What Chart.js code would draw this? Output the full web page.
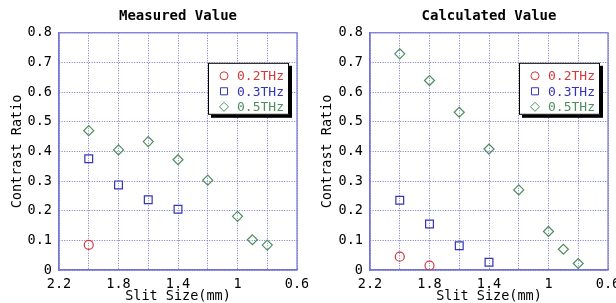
<!DOCTYPE html>
<html lang="en">
<head>
    <meta charset="UTF-8">
    <title>Contrast Ratio vs Slit Size</title>
    <script src="https://cdn.jsdelivr.net/npm/chart.js"></script>
    <style>
        body {
            margin: 0;
            background: #fff;
        }
        .wrap {
            position: relative;
            width: 616px;
            height: 303px;
        }
        .panel {
            position: absolute;
            top: 0;
            height: 303px;
        }
        #leftPanel { left: 0; width: 308px; }
        #rightPanel { left: 308px; width: 308px; }
    </style>
</head>
<body>
<div class="wrap">
    <div class="panel" id="leftPanel"><canvas id="measuredChart" width="308" height="303"></canvas></div>
    <div class="panel" id="rightPanel"><canvas id="calculatedChart" width="308" height="303"></canvas></div>
</div>

<script>
    // slit sizes (mm)
    const slitSize = [2.0, 1.8, 1.6, 1.4, 1.2, 1.0, 0.9, 0.8];
    const seriesNames = ['0.2THz', '0.3THz', '0.5THz'];
    const xTickLabels = ['2.2', '1.8', '1.4', '1', '0.6'];
    const yTickLabels = ['0', '0.1', '0.2', '0.3', '0.4', '0.5', '0.6', '0.7', '0.8'];

    // measured value
    const measured02 = [0.085];
    const measured03 = [0.375, 0.287, 0.237, 0.205];
    const measured05 = [0.470, 0.405, 0.433, 0.372, 0.303, 0.181, 0.102, 0.084];

    // calculated value
    const calculated02 = [0.045, 0.015];
    const calculated03 = [0.235, 0.155, 0.082, 0.026];
    const calculated05 = [0.729, 0.639, 0.532, 0.408, 0.270, 0.130, 0.070, 0.022];

    const colors = ['#d43a3a', '#3434b4', '#4f8f5f'];
    const styles = ['circle', 'rect', 'rectRot'];
    const radii = [4.5, 5.5, 5];
    const monoFont = "'DejaVu Sans Mono', monospace";

    function toPoints(values) {
        return values.map((v, i) => ({ x: slitSize[i], y: v }));
    }

    // frame around plot + boxed legend with shadow
    const framePlugin = {
        id: 'frame',
        beforeDatasetsDraw(chart) {
            const a = chart.chartArea;
            const ctx = chart.ctx;
            ctx.save();
            ctx.strokeStyle = '#7474d4';
            ctx.lineWidth = 1.2;
            ctx.strokeRect(a.left, a.top, a.right - a.left, a.bottom - a.top);
            ctx.restore();
        },
        afterDatasetsDraw(chart) {
            const a = chart.chartArea;
            const ctx = chart.ctx;
            const w = 81, h = 52;
            const bx = a.right - 8 - w;
            const by = a.top + 30;
            ctx.save();
            ctx.fillStyle = '#000';
            ctx.fillRect(bx + 3, by + 3, w, h);
            ctx.fillStyle = '#fff';
            ctx.fillRect(bx, by, w, h);
            ctx.strokeStyle = '#000';
            ctx.lineWidth = 1;
            ctx.strokeRect(bx + 0.5, by + 0.5, w - 1, h - 1);
            ctx.font = '13px ' + monoFont;
            ctx.textBaseline = 'middle';
            chart.data.datasets.forEach((ds, i) => {
                const cy = by + 13 + i * 15.5;
                ctx.strokeStyle = ds.borderColor;
                ctx.fillStyle = 'rgba(0,0,0,0)';
                ctx.lineWidth = 1;
                Chart.helpers.drawPoint(ctx, { pointStyle: ds.pointStyle, radius: ds.pointRadius - 0.5, rotation: 0, borderWidth: 1 }, bx + 16, cy);
                ctx.fillStyle = ds.borderColor;
                ctx.fillText(ds.label, bx + 29, cy + 1);
            });
            ctx.restore();
        }
    };

    function makeChart(canvasId, title, series, yAxisWidth, rightPad, yTitlePad) {
        const ctx = document.getElementById(canvasId).getContext('2d');
        return new Chart(ctx, {
            type: 'scatter',
            data: {
                datasets: series.map((values, i) => ({
                    label: seriesNames[i],
                    data: toPoints(values),
                    pointStyle: styles[i],
                    pointRadius: radii[i],
                    pointBorderWidth: 1.2,
                    borderColor: colors[i],
                    backgroundColor: 'rgba(0,0,0,0)',
                    pointBackgroundColor: 'rgba(0,0,0,0)'
                }))
            },
            options: {
                responsive: false,
                animation: false,
                layout: { padding: { left: 0, right: rightPad, top: 0, bottom: 0 } },
                plugins: {
                    legend: { display: false },
                    tooltip: { enabled: false },
                    title: {
                        display: true,
                        text: title,
                        fullSize: false,
                        color: '#000',
                        font: { family: monoFont, size: 14, weight: 'bold' },
                        padding: { top: 8, bottom: 8 }
                    }
                },
                scales: {
                    x: {
                        type: 'linear',
                        reverse: true,
                        min: 0.6,
                        max: 2.2,
                        afterFit(scale) {
                            scale.height = 33;
                            scale.paddingLeft = 0;
                            scale.paddingRight = 0;
                        },
                        ticks: {
                            stepSize: 0.2,
                            color: '#000',
                            padding: 6,
                            maxRotation: 0,
                            autoSkip: false,
                            font: { family: monoFont, size: 13.5 },
                            callback(value) {
                                const s = String(Number(value.toFixed(1)));
                                return xTickLabels.includes(s) ? s : '';
                            }
                        },
                        grid: { color: '#7676c4', lineWidth: 1, drawTicks: false },
                        border: { color: '#7474d4', width: 1.2, dash: [1, 1.5] },
                        title: {
                            display: true,
                            text: 'Slit Size(mm)',
                            color: '#000',
                            font: { family: monoFont, size: 13.5, lineHeight: 0.9 },
                            padding: { top: 0, bottom: 0 }
                        }
                    },
                    y: {
                        min: 0,
                        max: 0.8,
                        afterFit(scale) {
                            scale.width = yAxisWidth;
                            scale.paddingTop = 0;
                            scale.paddingBottom = 0;
                        },
                        ticks: {
                            stepSize: 0.1,
                            color: '#000',
                            padding: 7,
                            font: { family: monoFont, size: 13.5 },
                            callback(value) {
                                const s = String(Number(value.toFixed(1)));
                                return yTickLabels.includes(s) ? s : '';
                            }
                        },
                        grid: { color: '#7676c4', lineWidth: 1, drawTicks: false },
                        border: { color: '#7474d4', width: 1.2, dash: [1, 1.5] },
                        title: {
                            display: true,
                            text: 'Contrast Ratio',
                            color: '#000',
                            font: { family: monoFont, size: 13.5 },
                            padding: { top: yTitlePad, bottom: 0 }
                        }
                    }
                }
            },
            plugins: [framePlugin]
        });
    }

    makeChart('measuredChart', 'Measured Value', [measured02, measured03, measured05], 59, 11, 9);
    makeChart('calculatedChart', 'Calculated Value', [calculated02, calculated03, calculated05], 62, 8, 11);
</script>
</body>
</html>
